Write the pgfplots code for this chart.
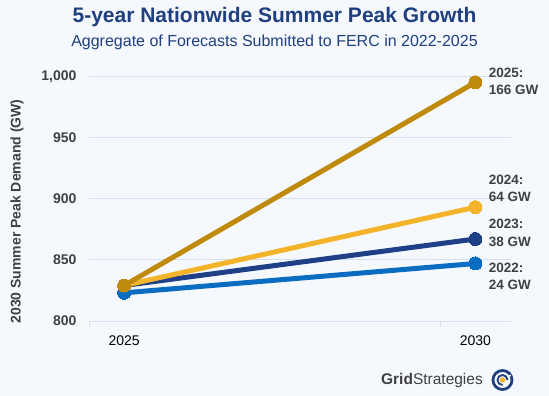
\documentclass[border=0pt]{standalone}
\usepackage{pgfplots}
\pgfplotsset{compat=1.18}
\usepackage{fontspec}
\setmainfont{Liberation Sans}
\definecolor{bgcol}{HTML}{F5F9FE}
\definecolor{gridcol}{HTML}{D5E1F2}
\definecolor{titlecol}{HTML}{1F3F7F}
\definecolor{txtgray}{HTML}{404040}
\definecolor{cA}{HTML}{0A6DC2}
\definecolor{cB}{HTML}{1F3F86}
\definecolor{cC}{HTML}{F4B42A}
\definecolor{cD}{HTML}{C08A0C}
\pgfplotstableread{
x y
0 823
1 847
}\tA
\pgfplotstableread{
x y
0 829
1 867
}\tB
\pgfplotstableread{
x y
0 829
1 893
}\tC
\pgfplotstableread{
x y
0 829
1 995
}\tD
\begin{document}
\begin{tikzpicture}[x=1pt,y=1pt]
\fill[bgcol] (0,0) rectangle (549,396);
\node[font=\fontsize{21}{24}\selectfont\bfseries,text=titlecol] at (274.5,379) {5-year Nationwide Summer Peak Growth};
\node[font=\fontsize{16}{18}\selectfont,text=titlecol] at (274.5,354) {Aggregate of Forecasts Submitted to FERC in 2022-2025};
\node[rotate=90, font=\fontsize{14}{16}\selectfont\bfseries, text=txtgray] at (17,184.5) {2030 Summer Peak Demand (GW)};
\draw[gridcol, line width=0.8pt] (89,75) -- (89,69);
\draw[gridcol, line width=0.8pt] (440.3,75) -- (440.3,69);
\begin{axis}[
  at={(89pt,75pt)}, anchor=south west,
  scale only axis, width=421.5pt, height=257pt,
  xmin=-0.1, xmax=1.1, ymin=800, ymax=1010,
  axis lines*=left,
  y axis line style={draw=none},
  x axis line style={draw=gridcol, line width=0.8pt},
  ytick={800,850,900,950,1000},
  yticklabels={800,850,900,950,{1,000}},
  ymajorgrids, grid style={gridcol, line width=0.8pt},
  ytick style={draw=none},
  xtick={0,1}, xticklabels={2025,2030},
  xtick style={draw=none},
  yticklabel style={font=\fontsize{14}{16}\selectfont\bfseries, text=txtgray, xshift=-9pt},
  xticklabel style={font=\fontsize{14}{16}\selectfont, text=black, yshift=-11pt},
  clip=false,
  every axis plot/.append style={line width=5pt, mark=*, mark size=6.5pt},
]
\addplot[cA, mark options={fill=cA, draw=cA, line width=0pt}] table[x=x,y=y] {\tA};
\addplot[cB, mark options={fill=cB, draw=cB, line width=0pt}] table[x=x,y=y] {\tB};
\addplot[cC, mark options={fill=cC, draw=cC, line width=0pt}] table[x=x,y=y] {\tC};
\addplot[cD, mark options={fill=cD, draw=cD, line width=0pt}] table[x=x,y=y] {\tD};
\begin{scope}[every node/.style={anchor=west, align=left, text=txtgray, font=\fontsize{13.5}{17.5}\selectfont\bfseries}]
\node at (axis cs:1,995) [xshift=10pt, yshift=1pt] {2025:\\166 GW};
\node at (axis cs:1,893) [xshift=10pt, yshift=19pt] {2024:\\64 GW};
\node at (axis cs:1,867) [xshift=10pt, yshift=6pt] {2023:\\38 GW};
\node at (axis cs:1,847) [xshift=10pt, yshift=-13pt] {2022:\\24 GW};
\end{scope}
\end{axis}
% logo
\node[anchor=east, text=txtgray, font=\fontsize{15.5}{17}\selectfont, inner sep=0pt] at (483,16) {\textbf{Grid}Strategies};
\draw[titlecol, line width=2.8pt] (502.5,16) circle (9.5pt);
\draw[bgcol, line width=1.6pt] (502.5,16) ++(30:9.5) -- ++(30:-6);
\draw[titlecol, line width=1.8pt] (502.5,16) ++(0:5) arc (0:270:5);
\fill[cC] (502.5,16) circle (2.8pt);
\end{tikzpicture}
\end{document}
